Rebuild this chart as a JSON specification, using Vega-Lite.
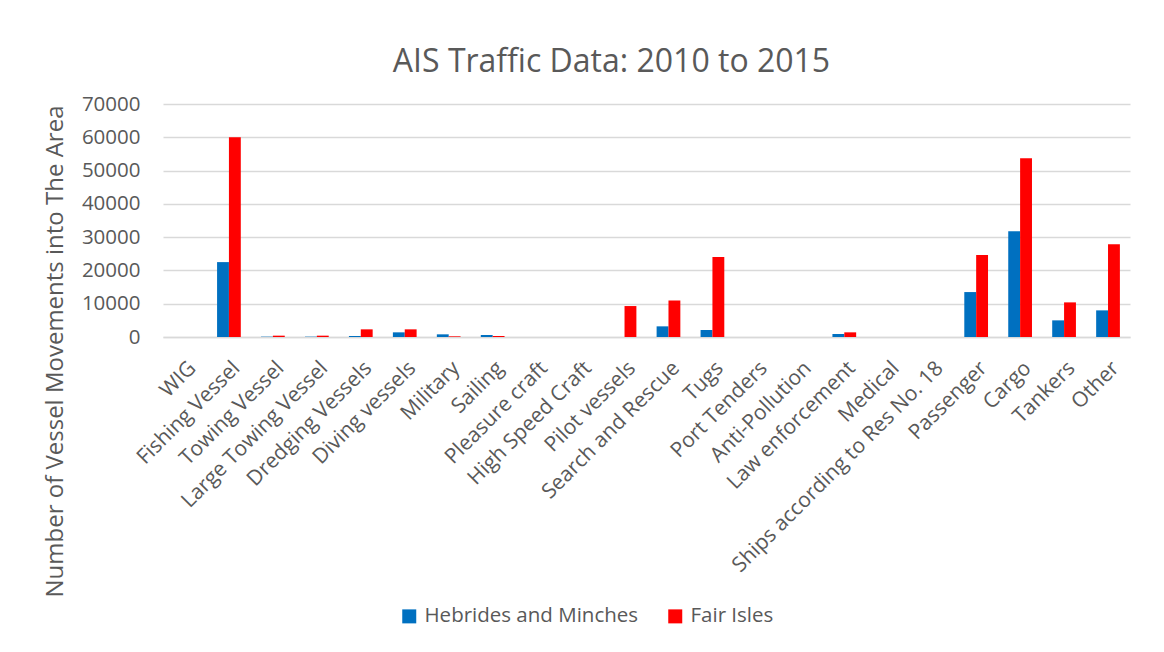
{
  "$schema": "https://vega.github.io/schema/vega-lite/v6.json",
  "width": 967,
  "height": 233,
  "autosize": {"type": "none"},
  "padding": {"left": 163, "top": 104, "right": 34, "bottom": 315},
  "background": "white",
  "title": {
    "text": "AIS Traffic Data: 2010 to 2015",
    "font": "Open Sans",
    "fontSize": 32,
    "fontWeight": "normal",
    "color": "#595959",
    "anchor": "middle",
    "dx": -35,
    "offset": 15
  },
  "data": {
    "values": [
      {"category": "WIG", "series": "Hebrides and Minches", "value": 0},
      {"category": "WIG", "series": "Fair Isles", "value": 0},
      {"category": "Fishing Vessel", "series": "Hebrides and Minches", "value": 22500},
      {"category": "Fishing Vessel", "series": "Fair Isles", "value": 60000},
      {"category": "Towing Vessel", "series": "Hebrides and Minches", "value": 100},
      {"category": "Towing Vessel", "series": "Fair Isles", "value": 400},
      {"category": "Large Towing Vessel", "series": "Hebrides and Minches", "value": 100},
      {"category": "Large Towing Vessel", "series": "Fair Isles", "value": 400},
      {"category": "Dredging Vessels", "series": "Hebrides and Minches", "value": 300},
      {"category": "Dredging Vessels", "series": "Fair Isles", "value": 2300},
      {"category": "Diving vessels", "series": "Hebrides and Minches", "value": 1400},
      {"category": "Diving vessels", "series": "Fair Isles", "value": 2300},
      {"category": "Military", "series": "Hebrides and Minches", "value": 800},
      {"category": "Military", "series": "Fair Isles", "value": 200},
      {"category": "Sailing", "series": "Hebrides and Minches", "value": 600},
      {"category": "Sailing", "series": "Fair Isles", "value": 300},
      {"category": "Pleasure craft", "series": "Hebrides and Minches", "value": 0},
      {"category": "Pleasure craft", "series": "Fair Isles", "value": 0},
      {"category": "High Speed Craft", "series": "Hebrides and Minches", "value": 0},
      {"category": "High Speed Craft", "series": "Fair Isles", "value": 0},
      {"category": "Pilot vessels", "series": "Hebrides and Minches", "value": 0},
      {"category": "Pilot vessels", "series": "Fair Isles", "value": 9300},
      {"category": "Search and Rescue", "series": "Hebrides and Minches", "value": 3200},
      {"category": "Search and Rescue", "series": "Fair Isles", "value": 11000},
      {"category": "Tugs", "series": "Hebrides and Minches", "value": 2100},
      {"category": "Tugs", "series": "Fair Isles", "value": 24000},
      {"category": "Port Tenders", "series": "Hebrides and Minches", "value": 0},
      {"category": "Port Tenders", "series": "Fair Isles", "value": 0},
      {"category": "Anti-Pollution", "series": "Hebrides and Minches", "value": 0},
      {"category": "Anti-Pollution", "series": "Fair Isles", "value": 0},
      {"category": "Law enforcement", "series": "Hebrides and Minches", "value": 900},
      {"category": "Law enforcement", "series": "Fair Isles", "value": 1400},
      {"category": "Medical", "series": "Hebrides and Minches", "value": 0},
      {"category": "Medical", "series": "Fair Isles", "value": 0},
      {"category": "Ships according to Res No. 18", "series": "Hebrides and Minches", "value": 0},
      {"category": "Ships according to Res No. 18", "series": "Fair Isles", "value": 0},
      {"category": "Passenger", "series": "Hebrides and Minches", "value": 13500},
      {"category": "Passenger", "series": "Fair Isles", "value": 24600},
      {"category": "Cargo", "series": "Hebrides and Minches", "value": 31800},
      {"category": "Cargo", "series": "Fair Isles", "value": 53700},
      {"category": "Tankers", "series": "Hebrides and Minches", "value": 5000},
      {"category": "Tankers", "series": "Fair Isles", "value": 10400},
      {"category": "Other", "series": "Hebrides and Minches", "value": 8000},
      {"category": "Other", "series": "Fair Isles", "value": 27900}
    ]
  },
  "mark": {"type": "bar"},
  "encoding": {
    "x": {
      "field": "category",
      "type": "nominal",
      "sort": null,
      "scale": {"paddingInner": 0.46, "paddingOuter": 0.23},
      "axis": {
        "title": null,
        "labelAngle": -45,
        "labelAlign": "right",
        "labelBaseline": "top",
        "labelPadding": 20,
        "labelDx": -11,
        "labelFont": "Open Sans",
        "labelFontSize": 21,
        "labelColor": "#595959",
        "labelOverlap": false,
        "labelLimit": 0,
        "ticks": false,
        "domain": true,
        "domainColor": "#d9d9d9",
        "domainWidth": 1.5,
        "grid": false
      }
    },
    "xOffset": {
      "field": "series",
      "type": "nominal",
      "sort": ["Hebrides and Minches", "Fair Isles"],
      "scale": {"paddingInner": 0, "paddingOuter": 0}
    },
    "y": {
      "field": "value",
      "type": "quantitative",
      "scale": {"domain": [0, 70000], "nice": false},
      "axis": {
        "title": "Number of Vessel Movements into The Area",
        "titleFont": "Open Sans",
        "titleFontSize": 24,
        "titleFontWeight": "normal",
        "titleColor": "#595959",
        "titleX": -96,
        "titleY": 247,
        "titleAngle": -90,
        "values": [0, 10000, 20000, 30000, 40000, 50000, 60000, 70000],
        "format": "d",
        "labelFont": "Open Sans",
        "labelFontSize": 20.5,
        "labelColor": "#595959",
        "labelPadding": 23,
        "ticks": false,
        "domain": false,
        "grid": true,
        "gridColor": "#d9d9d9",
        "gridWidth": 1.5
      }
    },
    "color": {
      "field": "series",
      "type": "nominal",
      "scale": {"domain": ["Hebrides and Minches", "Fair Isles"], "range": ["#0070C0", "#FF0000"]},
      "legend": {
        "title": null,
        "orient": "none",
        "direction": "horizontal",
        "legendX": 236,
        "legendY": 502,
        "symbolType": "square",
        "symbolSize": 196,
        "symbolStrokeWidth": 0,
        "symbolOpacity": 1,
        "labelFont": "Open Sans",
        "labelFontSize": 20.5,
        "labelColor": "#595959",
        "labelOffset": 5,
        "labelLimit": 0,
        "columnPadding": 26
      }
    }
  },
  "config": {
    "view": {"stroke": null}
  }
}
